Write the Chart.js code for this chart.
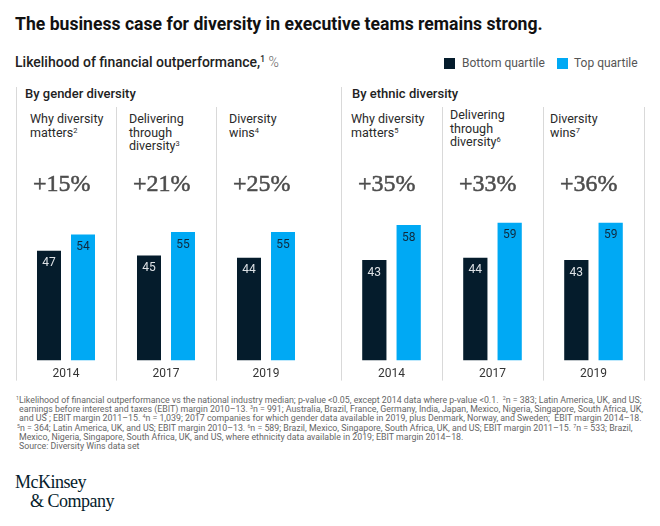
<!DOCTYPE html>
<html>
<head>
<meta charset="utf-8">
<script src="https://cdn.jsdelivr.net/npm/chart.js@4/dist/chart.umd.min.js"></script>
<style>
  html, body { margin: 0; padding: 0; background: #fff; }
  body { width: 660px; height: 526px; position: relative; overflow: hidden;
         font-family: Roboto, "Noto Sans", sans-serif; color: #222; }
  .abs { position: absolute; white-space: nowrap; }
  .title { left: 15px; top: 14px; font-size: 17.6px; font-weight: 700; color: #111; }
  .sub { left: 15px; top: 54px; font-size: 14px; font-weight: 500; color: #222; }
  .sub .pct { font-weight: 300; color: #666; }
  sup { font-size: 60%; line-height: 0; vertical-align: 0.55em; }
  .lg-box { width: 11px; height: 11px; top: 58px; }
  .lg-txt { top: 56px; font-size: 12px; color: #555; }
  .group { top: 86px; font-size: 13px; font-weight: 500; color: #222; }
  .colhead { font-size: 12.5px; line-height: 13.7px; color: #2a2a2a; }
  .chartbox { position: absolute; top: 87px; height: 300px; }
  .foot { font-size: 8.8px; color: #666; line-height: 10px; }
  .logo { font-family: "Liberation Serif", "DejaVu Serif", serif; font-size: 18px;
          color: #051c2c; letter-spacing: -0.5px; line-height: 19px; }
</style>
</head>
<body>
<div class="abs title">The business case for diversity in executive teams remains strong.</div>
<div class="abs sub">Likelihood of financial outperformance,<sup>1</sup> <span class="pct">%</span></div>

<div class="abs lg-box" style="left:444px;background:#051c2c"></div>
<div class="abs lg-txt" style="left:462px">Bottom quartile</div>
<div class="abs lg-box" style="left:557px;background:#00a9f4"></div>
<div class="abs lg-txt" style="left:574px">Top quartile</div>

<div class="abs group" style="left:25px">By gender diversity</div>
<div class="abs group" style="left:352px">By ethnic diversity</div>

<div id="heads"></div>

<div class="chartbox" style="left:14px;width:304px"><canvas id="gender"></canvas></div>
<div class="chartbox" style="left:339px;width:307px"><canvas id="ethnic"></canvas></div>

<div class="abs foot" style="top:395px;left:16px"><sup>1</sup>Likelihood of financial outperformance vs the national industry median; p-value &lt;0.05, except 2014 data where p-value &lt;0.1.&nbsp; <sup>2</sup>n = 383; Latin America, UK, and US;</div>
<div class="abs foot" style="top:404px;left:19px">earnings before interest and taxes (EBIT) margin 2010–13. <sup>3</sup>n = 991; Australia, Brazil, France, Germany, India, Japan, Mexico, Nigeria, Singapore, South Africa, UK,</div>
<div class="abs foot" style="top:413px;left:19px">and US ; EBIT margin 2011–15. <sup>4</sup>n = 1,039; 2017 companies for which gender data available in 2019, plus Denmark, Norway, and Sweden;&nbsp; EBIT margin 2014–18.</div>
<div class="abs foot" style="top:423px;left:17px"><sup>5</sup>n = 364; Latin America, UK, and US; EBIT margin 2010–13. <sup>6</sup>n = 589; Brazil, Mexico, Singapore, South Africa, UK, and US; EBIT margin 2011–15. <sup>7</sup>n = 533; Brazil,</div>
<div class="abs foot" style="top:432px;left:19px">Mexico, Nigeria, Singapore, South Africa, UK, and US, where ethnicity data available in 2019; EBIT margin 2014–18.</div>
<div class="abs foot" style="top:441px;left:19px">Source: Diversity Wins data set</div>

<div class="abs logo" style="left:15px;top:473px">McKinsey</div>
<div class="abs logo" style="left:30px;top:492px">&amp; Company</div>

<script>
  // values
  var YEARS = ['2014', '2017', '2019'];
  var GENDER_BOTTOM = [47, 45, 44];
  var GENDER_TOP    = [54, 55, 55];
  var ETHNIC_BOTTOM = [43, 44, 43];
  var ETHNIC_TOP    = [58, 59, 59];
  var GENDER_UPLIFT = ['+15%', '+21%', '+25%'];
  var ETHNIC_UPLIFT = ['+35%', '+33%', '+36%'];
  var SERIES_NAMES  = ['Bottom quartile', 'Top quartile'];
  var REPORTS       = [['Why diversity', 'matters'], ['Delivering', 'through', 'diversity'], ['Diversity', 'wins']];
  var GENDER_NOTES  = [2, 3, 4];
  var ETHNIC_NOTES  = [5, 6, 7];

  var DARK = '#051c2c';
  var LIGHT = '#00a9f4';
  var RULE = '#d9d9d9';

  // column headings (html so the footnote marks can be superscripts)
  function renderHeads() {
    var spots = [
      [30, 112], [129, 112], [229, 112],
      [351, 112], [450, 108], [550, 112]
    ];
    var notes = GENDER_NOTES.concat(ETHNIC_NOTES);
    var html = '';
    spots.forEach(function (s, i) {
      var lines = REPORTS[i % 3].slice();
      lines[lines.length - 1] += '<sup>' + notes[i] + '</sup>';
      html += '<div class="abs colhead" style="left:' + s[0] + 'px;top:' + s[1] + 'px">' +
        lines.join('<br>') + '</div>';
    });
    document.getElementById('heads').innerHTML = html;
  }

  var decor = {
    id: 'decor',
    beforeDatasetsDraw: function (chart) {
      var ctx = chart.ctx, x = chart.scales.x, area = chart.chartArea;
      var half = (x.getPixelForValue(1) - x.getPixelForValue(0)) / 2;
      var bottom = area.bottom + 20;
      ctx.save();
      ctx.strokeStyle = RULE;
      ctx.lineWidth = 1;
      var n = YEARS.length + (chart.options.closeRight ? 1 : 0);
      for (var i = 0; i < n; i++) {
        var px = Math.round(x.getPixelForValue(Math.min(i, YEARS.length - 1)) + (i < YEARS.length ? -half : half)) + 0.5;
        ctx.beginPath();
        ctx.moveTo(px, i === 0 ? 0 : area.top);
        ctx.lineTo(px, bottom);
        ctx.stroke();
      }
      // uplift figures, a touch of stroke to get the heavier serif look
      var uplift = chart.options.uplift;
      ctx.fillStyle = '#4d4d4d';
      ctx.strokeStyle = '#4d4d4d';
      ctx.lineWidth = 0.5;
      ctx.font = '24px "Liberation Serif", "DejaVu Serif", serif';
      ctx.textBaseline = 'middle';
      ctx.textAlign = 'left';
      for (var j = 0; j < uplift.length; j++) {
        var tx = x.getPixelForValue(j) - half + 17;
        ctx.fillText(uplift[j], tx, area.top + 78);
        ctx.strokeText(uplift[j], tx, area.top + 78);
      }
      ctx.restore();
    },
    afterDatasetsDraw: function (chart) {
      var ctx = chart.ctx;
      ctx.save();
      ctx.font = '12px Roboto';
      ctx.textAlign = 'center';
      ctx.textBaseline = 'middle';
      chart.data.datasets.forEach(function (ds, di) {
        ctx.fillStyle = di === 0 ? '#dde1e5' : '#10293d';
        chart.getDatasetMeta(di).data.forEach(function (bar, k) {
          ctx.fillText(String(ds.data[k]), bar.x, bar.y + 12.5);
        });
      });
      ctx.restore();
    }
  };

  function makeChart(id, bottom, top, uplift, closeRight) {
    return new Chart(document.getElementById(id), {
      type: 'bar',
      data: {
        labels: YEARS,
        datasets: [
          { label: SERIES_NAMES[0], data: bottom, backgroundColor: DARK },
          { label: SERIES_NAMES[1], data: top, backgroundColor: LIGHT }
        ]
      },
      options: {
        responsive: true,
        maintainAspectRatio: false,
        animation: false,
        uplift: uplift,
        closeRight: closeRight,
        layout: { padding: { top: 20, left: 2, right: 2, bottom: 0 } },
        categoryPercentage: 0.68,
        barPercentage: 0.706,
        plugins: { legend: { display: false }, tooltip: { enabled: false } },
        scales: {
          x: {
            grid: { display: false, drawTicks: false },
            border: { display: false },
            ticks: { color: '#333', padding: 6, font: { family: 'Roboto', size: 12 } }
          },
          y: { display: false, min: 0, max: 108.5 }
        }
      },
      plugins: [decor]
    });
  }

  renderHeads();
  makeChart('gender', GENDER_BOTTOM, GENDER_TOP, GENDER_UPLIFT, false);
  makeChart('ethnic', ETHNIC_BOTTOM, ETHNIC_TOP, ETHNIC_UPLIFT, true);
</script>
</body>
</html>
